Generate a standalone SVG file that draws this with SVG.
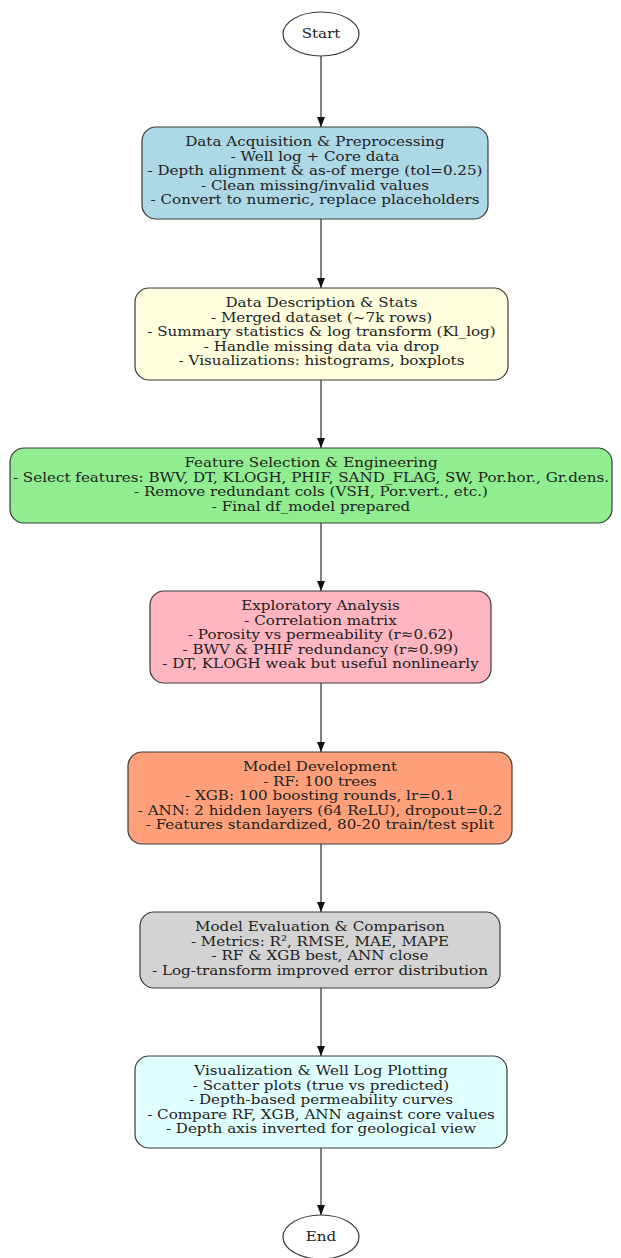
<svg xmlns="http://www.w3.org/2000/svg" width="621" height="1258" viewBox="0 0 621 1258">
<style>
  .node rect, .node ellipse { stroke: #3a3a3a; stroke-width: 1.2; }
  text { font-family: "DejaVu Serif", "Liberation Serif", serif; font-size: 13.5px; fill: #222; text-anchor: middle; }
  .edge line { stroke: #555; stroke-width: 1.5; }
</style>
<defs>
  <marker id="arr" viewBox="0 0 10 8" refX="10" refY="4" markerWidth="10" markerHeight="8" markerUnits="userSpaceOnUse" orient="auto">
    <path d="M0,0 L10,4 L0,8 Z" fill="#111"/>
  </marker>
</defs>
<rect width="621" height="1258" fill="#ffffff"/>
<g id="connectors" class="edge">
  <line x1="321" y1="56" x2="321" y2="127" marker-end="url(#arr)"/>
  <line x1="321" y1="219" x2="321" y2="288" marker-end="url(#arr)"/>
  <line x1="321" y1="380" x2="321" y2="448" marker-end="url(#arr)"/>
  <line x1="321" y1="523" x2="321" y2="591" marker-end="url(#arr)"/>
  <line x1="321" y1="683" x2="321" y2="752" marker-end="url(#arr)"/>
  <line x1="321" y1="844" x2="321" y2="912" marker-end="url(#arr)"/>
  <line x1="321" y1="988" x2="321" y2="1056" marker-end="url(#arr)"/>
  <line x1="321" y1="1148" x2="321" y2="1215" marker-end="url(#arr)"/>
</g>
<g id="start" class="node">
  <ellipse cx="321" cy="34" rx="38" ry="22" fill="#ffffff"/>
  <g transform="translate(321 0) scale(1.12 1)"><text x="0" y="38.5">Start</text></g>
</g>
<g id="acquisition" class="node">
  <rect x="142" y="127" width="346" height="92" rx="14" fill="#ADD8E6"/>
  <g transform="translate(315 0) scale(1.12 1)">
  <text x="0" y="146.5">Data Acquisition &amp; Preprocessing</text>
  <text x="0" y="161">- Well log + Core data</text>
  <text x="0" y="175.5">- Depth alignment &amp; as-of merge (tol=0.25)</text>
  <text x="0" y="190">- Clean missing/invalid values</text>
  <text x="0" y="204.5">- Convert to numeric, replace placeholders</text>
  </g>
</g>
<g id="description" class="node">
  <rect x="135" y="288" width="373" height="92" rx="14" fill="#FFFFE0"/>
  <g transform="translate(321.5 0) scale(1.12 1)">
  <text x="0" y="307.5">Data Description &amp; Stats</text>
  <text x="0" y="322">- Merged dataset (~7k rows)</text>
  <text x="0" y="336.5">- Summary statistics &amp; log transform (Kl_log)</text>
  <text x="0" y="351">- Handle missing data via drop</text>
  <text x="0" y="365.5">- Visualizations: histograms, boxplots</text>
  </g>
</g>
<g id="features" class="node">
  <rect x="10" y="448" width="602" height="75" rx="14" fill="#90EE90"/>
  <g transform="translate(311 0) scale(1.12 1)">
  <text x="0" y="467.5">Feature Selection &amp; Engineering</text>
  <text x="0" y="482">- Select features: BWV, DT, KLOGH, PHIF, SAND_FLAG, SW, Por.hor., Gr.dens.</text>
  <text x="0" y="496.5">- Remove redundant cols (VSH, Por.vert., etc.)</text>
  <text x="0" y="511">- Final df_model prepared</text>
  </g>
</g>
<g id="exploratory" class="node">
  <rect x="150" y="591" width="341" height="92" rx="14" fill="#FFB6C1"/>
  <g transform="translate(320.5 0) scale(1.12 1)">
  <text x="0" y="610.5">Exploratory Analysis</text>
  <text x="0" y="625">- Correlation matrix</text>
  <text x="0" y="639.5">- Porosity vs permeability (r≈0.62)</text>
  <text x="0" y="654">- BWV &amp; PHIF redundancy (r≈0.99)</text>
  <text x="0" y="668.5">- DT, KLOGH weak but useful nonlinearly</text>
  </g>
</g>
<g id="model" class="node">
  <rect x="128" y="752" width="384" height="92" rx="14" fill="#FFA07A"/>
  <g transform="translate(320 0) scale(1.12 1)">
  <text x="0" y="771.5">Model Development</text>
  <text x="0" y="786">- RF: 100 trees</text>
  <text x="0" y="800.5">- XGB: 100 boosting rounds, lr=0.1</text>
  <text x="0" y="815">- ANN: 2 hidden layers (64 ReLU), dropout=0.2</text>
  <text x="0" y="829.5">- Features standardized, 80-20 train/test split</text>
  </g>
</g>
<g id="evaluation" class="node">
  <rect x="140" y="912" width="360" height="76" rx="14" fill="#D3D3D3"/>
  <g transform="translate(320 0) scale(1.12 1)">
  <text x="0" y="931.5">Model Evaluation &amp; Comparison</text>
  <text x="0" y="946">- Metrics: R², RMSE, MAE, MAPE</text>
  <text x="0" y="960.5">- RF &amp; XGB best, ANN close</text>
  <text x="0" y="975">- Log-transform improved error distribution</text>
  </g>
</g>
<g id="visualization" class="node">
  <rect x="135" y="1056" width="372" height="92" rx="14" fill="#E0FFFF"/>
  <g transform="translate(321 0) scale(1.12 1)">
  <text x="0" y="1075.5">Visualization &amp; Well Log Plotting</text>
  <text x="0" y="1090">- Scatter plots (true vs predicted)</text>
  <text x="0" y="1104.5">- Depth-based permeability curves</text>
  <text x="0" y="1119">- Compare RF, XGB, ANN against core values</text>
  <text x="0" y="1133.5">- Depth axis inverted for geological view</text>
  </g>
</g>
<g id="end" class="node">
  <ellipse cx="321" cy="1237" rx="38" ry="22" fill="#ffffff"/>
  <g transform="translate(321 0) scale(1.12 1)"><text x="0" y="1241.5">End</text></g>
</g>
</svg>
